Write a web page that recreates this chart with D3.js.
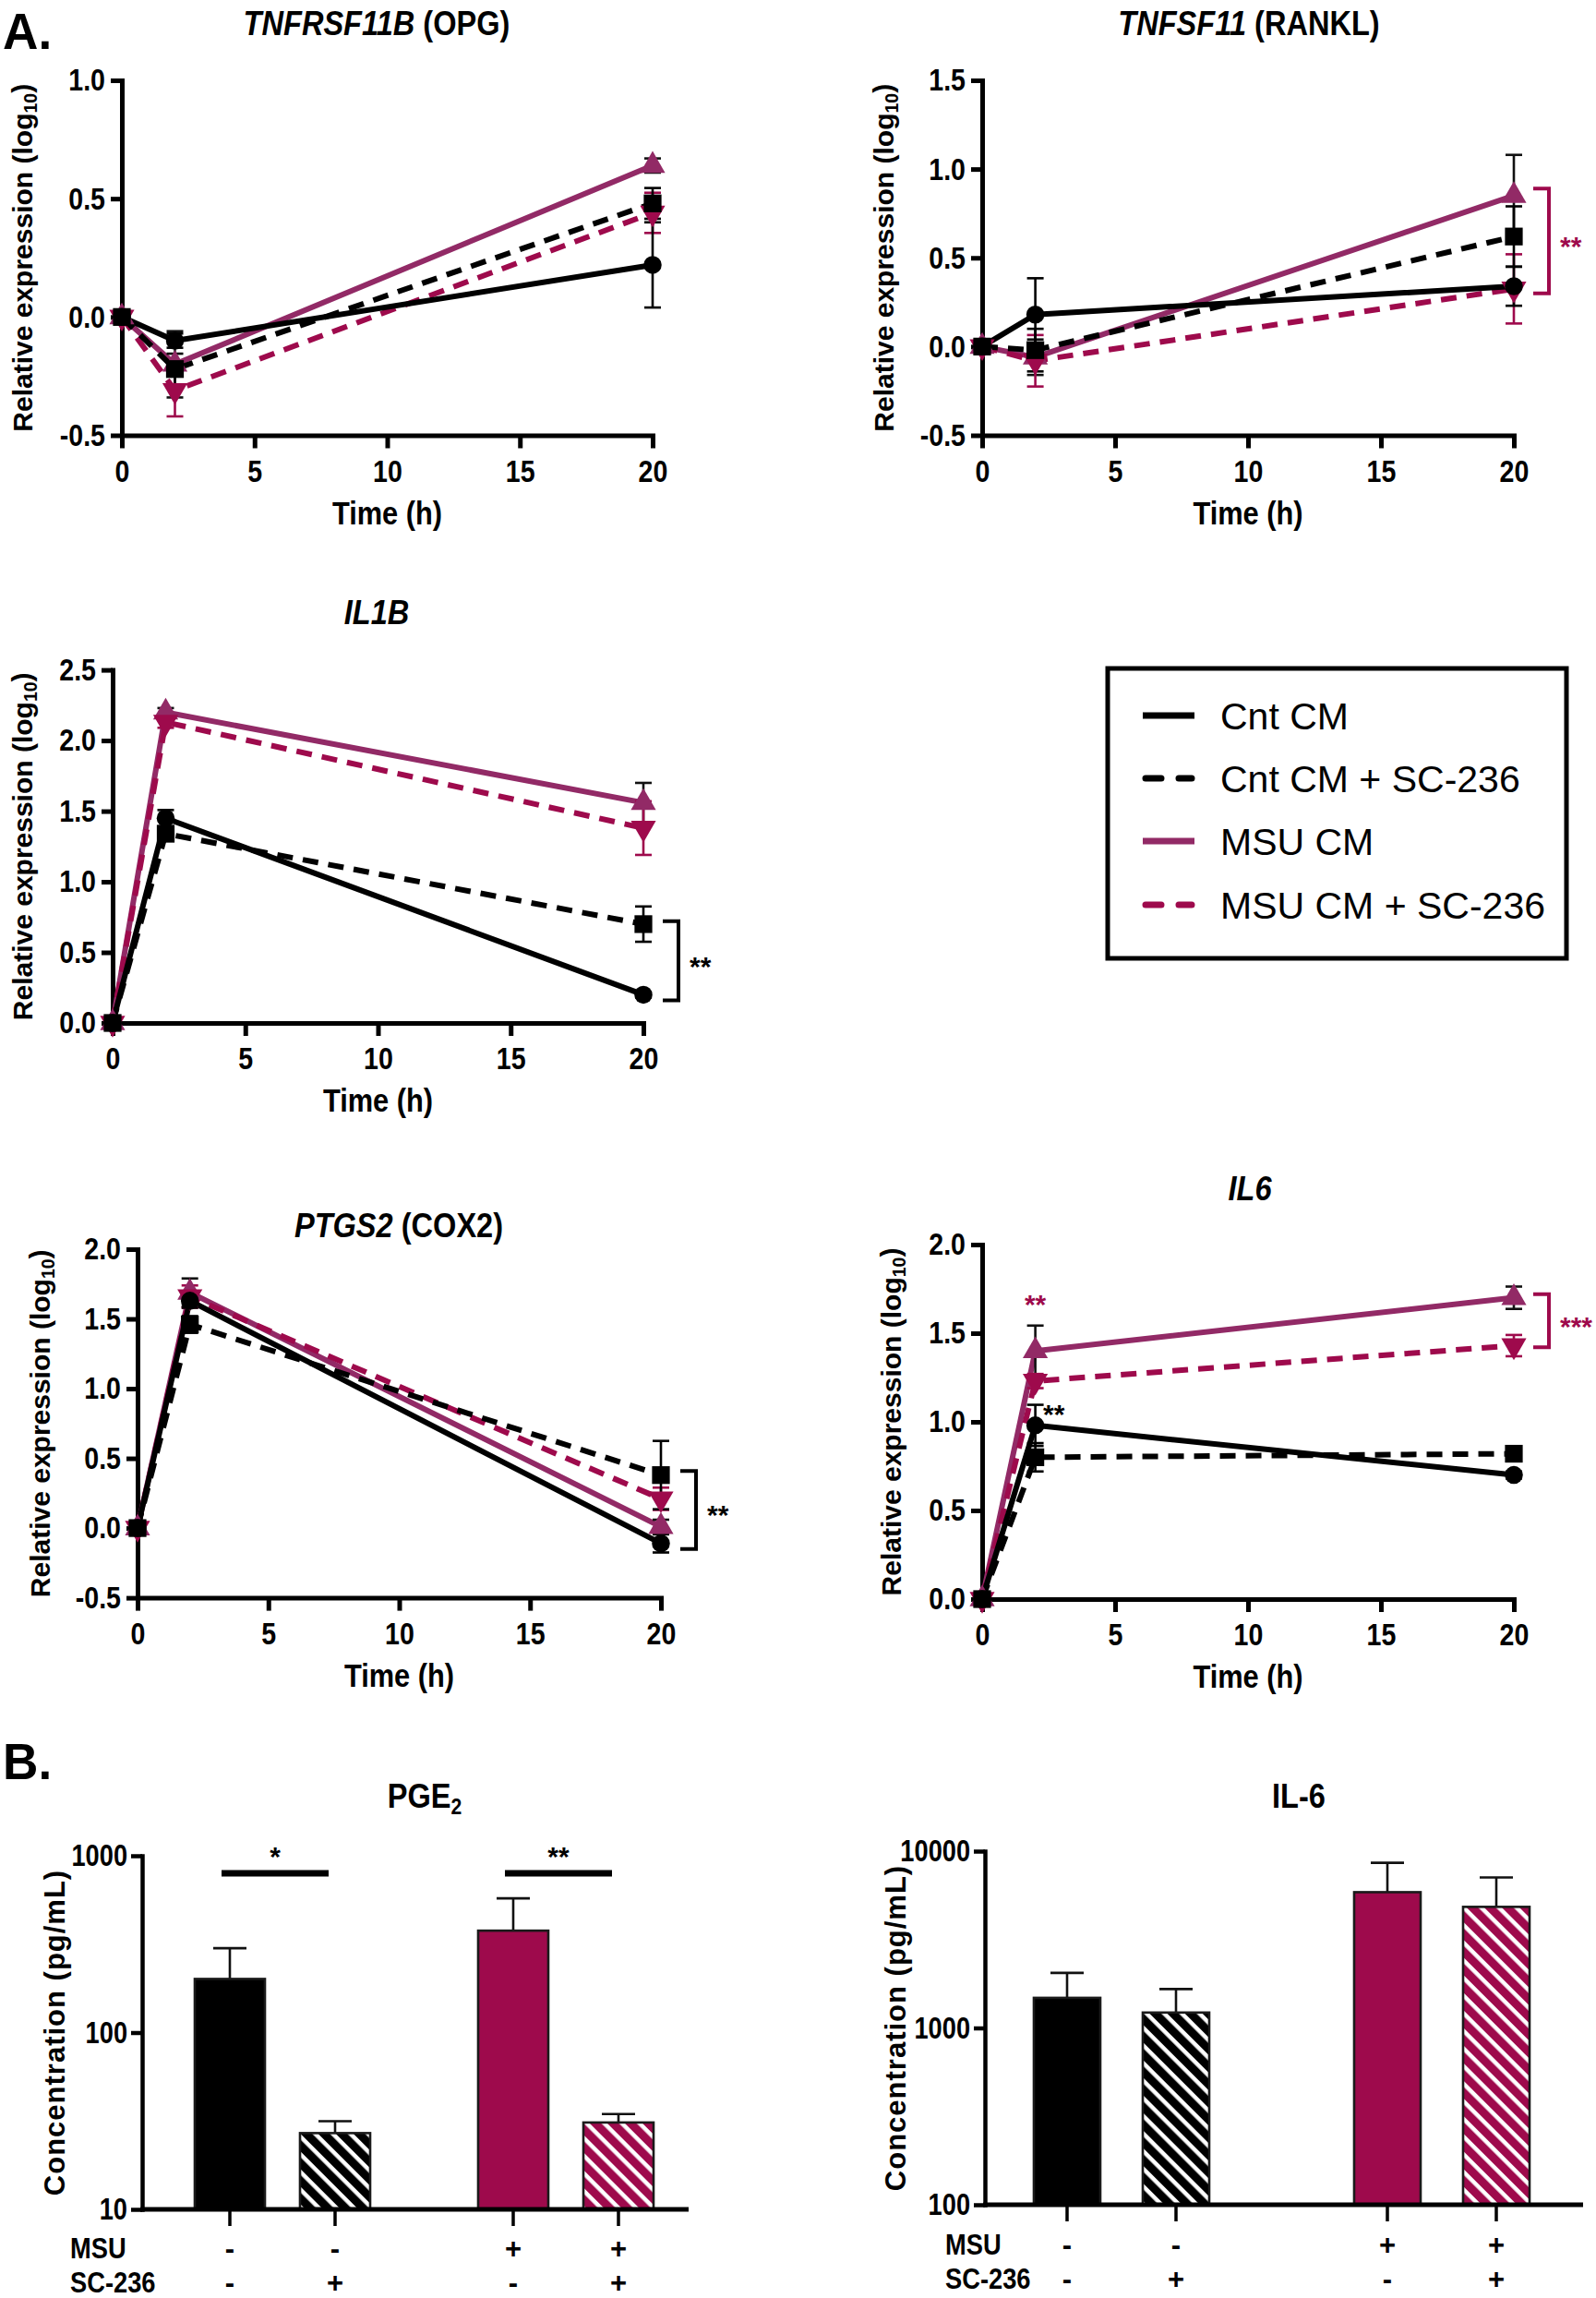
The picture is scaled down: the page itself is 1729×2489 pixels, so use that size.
<!DOCTYPE html>
<html><head><meta charset="utf-8">
<script src="https://cdn.jsdelivr.net/npm/d3@7"></script>
<style>body{margin:0;background:#fff} svg{display:block}</style>
</head><body>
<svg id="fig" width="1729" height="2489"></svg>
<script>
// ================= DATA =================
const timeH = [0, 2, 20];
const xTicks = [0, 5, 10, 15, 20];
const seriesNames = ["Cnt CM", "Cnt CM + SC-236", "MSU CM", "MSU CM + SC-236"];

// TNFRSF11B (OPG)
const opgCnt = [0, -0.10, 0.22],   opgCntErr = [0, 0.03, 0.18];
const opgCntSC = [0, -0.22, 0.48], opgCntSCErr = [0, 0.065, 0.065];
const opgMSU = [0, -0.20, 0.64],   opgMSUErr = [0, 0.14, 0.03];
const opgMSUSC = [0, -0.31, 0.44], opgMSUSCErr = [0, 0.11, 0.085];
const opgYTicks = [-0.5, 0.0, 0.5, 1.0];

// TNFSF11 (RANKL)
const rankCnt = [0, 0.18, 0.34],    rankCntErr = [0, 0.205, 0.11];
const rankCntSC = [0, -0.02, 0.62], rankCntSCErr = [0, 0.12, 0.17];
const rankMSU = [0, -0.06, 0.85],   rankMSUErr = [0, 0.10, 0.23];
const rankMSUSC = [0, -0.08, 0.325],rankMSUSCErr = [0, 0.145, 0.195];
const rankYTicks = [-0.5, 0.0, 0.5, 1.0, 1.5];
const rankBracket = [0.89, 0.30], rankBracketLabel = "**";

// IL1B
const il1bCnt = [0, 1.45, 0.20],   il1bCntErr = [0, 0.058, 0.02];
const il1bCntSC = [0, 1.34, 0.70], il1bCntSCErr = [0, 0.04, 0.125];
const il1bMSU = [0, 2.20, 1.56],   il1bMSUErr = [0, 0.03, 0.14];
const il1bMSUSC = [0, 2.13, 1.38], il1bMSUSCErr = [0, 0.04, 0.19];
const il1bYTicks = [0.0, 0.5, 1.0, 1.5, 2.0, 2.5];
const il1bBracket = [0.72, 0.16], il1bBracketLabel = "**";

// PTGS2 (COX2)
const ptgCnt = [0, 1.63, -0.11],  ptgCntErr = [0, 0.05, 0.065];
const ptgCntSC = [0, 1.46, 0.38], ptgCntSCErr = [0, 0.06, 0.245];
const ptgMSU = [0, 1.69, 0.01],   ptgMSUErr = [0, 0.10, 0.05];
const ptgMSUSC = [0, 1.66, 0.21], ptgMSUSCErr = [0, 0.08, 0.08];
const ptgYTicks = [-0.5, 0.0, 0.5, 1.0, 1.5, 2.0];
const ptgBracket = [0.41, -0.15], ptgBracketLabel = "**";

// IL6
const il6Cnt = [0, 0.98, 0.70],   il6CntErr = [0, 0.116, 0.02];
const il6CntSC = [0, 0.80, 0.82], il6CntSCErr = [0, 0.08, 0.02];
const il6MSU = [0, 1.40, 1.70],   il6MSUErr = [0, 0.143, 0.063];
const il6MSUSC = [0, 1.23, 1.43], il6MSUSCErr = [0, 0.04, 0.06];
const il6YTicks = [0.0, 0.5, 1.0, 1.5, 2.0];
const il6Bracket = [1.72, 1.42], il6BracketLabel = "***";
const il6StarMSU = {t: 2, v: 1.68, label: "**"};
const il6StarCnt = {t: 2.7, v: 1.06, label: "**"};

// Panel B bars
const barMSU = ["-", "-", "+", "+"];
const barSC  = ["-", "+", "-", "+"];
const pge2Vals = [201, 27, 377, 31];
const pge2Err  = [99, 4.5, 197, 3.6];
const pge2Ticks = [10, 100, 1000];
const pge2Sig = [{a: 0, b: 1, v: 795, label: "*"}, {a: 2, b: 3, v: 795, label: "**"}];
const il6pVals = [1480, 1222, 5860, 4840];
const il6pErr  = [567, 438, 2730, 2260];
const il6pTicks = [100, 1000, 10000];

// ================= STYLE / LAYOUT =================
const F = "'Liberation Sans', Arial, Helvetica, sans-serif";
const PURPLE = "#922a66", MAGENTA = "#9e0a4c";
const styles = [
  {color: "#000", dash: null, sym: d3.symbolCircle, size: 300, rot: 0, err: "#000"},
  {color: "#000", dash: "17 11", sym: d3.symbolSquare, size: 370, rot: 0, err: "#000"},
  {color: PURPLE, dash: null, sym: d3.symbolTriangle, size: 320, rot: 0, err: "#111"},
  {color: MAGENTA, dash: "17 11", sym: d3.symbolTriangle, size: 320, rot: 180, err: MAGENTA}
];
const drawOrder = [2, 3, 0, 1];
const TICK_FS = 34, TICK_SQ = 0.84;

const svg = d3.select("#fig");
svg.append("rect").attr("width", 1729).attr("height", 2489).attr("fill", "#fff");

const fmt1 = d => d.toFixed(1);

function condense(sel, f) {
  sel.each(function () {
    const w = this.getComputedTextLength();
    d3.select(this).attr("textLength", w * f).attr("lengthAdjust", "spacingAndGlyphs");
  });
}

// bold, horizontally squeezed text (anchored at x,y)
function sqText(x, y, size, f, anchor) {
  return svg.append("text").attr("transform", `translate(${x},${y}) scale(${f},1)`)
    .attr("text-anchor", anchor || "middle").attr("font-family", F).attr("font-weight", "bold")
    .attr("font-size", size).attr("fill", "#000");
}

function titleText(x, y, parts) {
  const t = sqText(x, y, 37, 0.88);
  parts.forEach(p => {
    const s = t.append("tspan").text(p.t);
    if (p.it) s.attr("font-style", "italic");
    if (p.sub) s.attr("font-size", "0.65em").attr("dy", "0.3em");
  });
  return t;
}

function yLabel(x, yc, main, sub, tail, size, ls) {
  const t = svg.append("text").attr("transform", `translate(${x},${yc}) rotate(-90)`)
    .attr("text-anchor", "middle").attr("dy", "0.35em")
    .attr("font-family", F).attr("font-weight", "bold").attr("font-size", size || 30);
  if (ls) t.attr("letter-spacing", ls);
  t.append("tspan").text(main);
  if (sub) {
    t.append("tspan").text(sub).attr("font-size", "0.65em").attr("dy", "0.3em");
    t.append("tspan").text(tail).attr("dy", "-0.2em");
  }
}

function styleAxis(g, w, sq) {
  g.select(".domain").attr("stroke", "#000").attr("stroke-width", w).attr("stroke-linecap", "square");
  g.selectAll(".tick line").attr("stroke", "#000").attr("stroke-width", w);
  const tx = g.selectAll(".tick text").attr("fill", "#000").attr("font-family", F)
    .attr("font-weight", "bold").attr("font-size", TICK_FS);
  condense(tx, sq || TICK_SQ);
}

function linePanel(L, series, yTicks, extra) {
  const x = d3.scaleLinear().domain([0, 20]).range([L.x0, L.x1]);
  const y = d3.scaleLinear().domain([yTicks[0], yTicks[yTicks.length - 1]]).range([L.yBot, L.yTop]);
  titleText(L.tx, L.ty, L.title);
  yLabel(L.ylx, (L.yTop + L.yBot) / 2, "Relative expression (log", "10", ")");

  const gx = svg.append("g").attr("transform", `translate(0,${L.yBot})`)
    .call(d3.axisBottom(x).tickValues(xTicks).tickFormat(d3.format("d")).tickSize(14).tickSizeOuter(0).tickPadding(12));
  styleAxis(gx, 5);
  const gy = svg.append("g").attr("transform", `translate(${L.x0},0)`)
    .call(d3.axisLeft(y).tickValues(yTicks).tickFormat(fmt1).tickSize(12).tickSizeOuter(0).tickPadding(6));
  styleAxis(gy, 5);
  sqText((L.x0 + L.x1) / 2, L.yBot + 96, 35, 0.88).text("Time (h)");

  const line = d3.line().x((d, i) => x(timeH[i])).y(d => y(d));
  drawOrder.forEach(si => {
    const st = styles[si];
    const p = svg.append("path").datum(series[si].v).attr("d", line).attr("fill", "none")
      .attr("stroke", st.color).attr("stroke-width", 6).attr("stroke-linejoin", "round");
    if (st.dash) p.attr("stroke-dasharray", st.dash);
  });
  drawOrder.forEach(si => {
    const st = styles[si];
    series[si].v.forEach((v, i) => {
      const e = series[si].e[i];
      if (!e) return;
      const cx = x(timeH[i]);
      const g = svg.append("g").attr("stroke", st.err).attr("stroke-width", 2.6).attr("fill", "none");
      g.append("line").attr("x1", cx).attr("x2", cx).attr("y1", y(v - e)).attr("y2", y(v + e));
      [v - e, v + e].forEach(q => g.append("line").attr("x1", cx - 9).attr("x2", cx + 9).attr("y1", y(q)).attr("y2", y(q)));
    });
  });
  drawOrder.forEach(si => {
    const st = styles[si];
    const sym = d3.symbol().type(st.sym).size(st.size);
    series[si].v.forEach((v, i) => {
      svg.append("path").attr("d", sym()).attr("fill", st.color)
        .attr("transform", `translate(${x(timeH[i])},${y(v)}) rotate(${st.rot})`);
    });
  });
  if (extra && extra.bracket) {
    const bx = x(20) + 38, c = extra.color;
    const [b1, b2] = extra.bracket;
    svg.append("path").attr("d", `M${bx - 17},${y(b1)}H${bx}V${y(b2)}H${bx - 17}`)
      .attr("fill", "none").attr("stroke", c).attr("stroke-width", 4);
    svg.append("text").attr("x", bx + 12).attr("y", (y(b1) + y(b2)) / 2 + 16)
      .attr("font-family", F).attr("font-weight", "bold").attr("font-size", 30).attr("fill", c).text(extra.label);
  }
  if (extra && extra.stars) {
    extra.stars.forEach(s => {
      svg.append("text").attr("x", x(s.t)).attr("y", y(s.v) + 14).attr("text-anchor", "middle")
        .attr("font-family", F).attr("font-weight", "bold").attr("font-size", 30).attr("fill", s.color).text(s.label);
    });
  }
}

function mk(a, ae, b, be, c, ce, d, de) {
  return [{v: a, e: ae}, {v: b, e: be}, {v: c, e: ce}, {v: d, e: de}];
}

// Panel A label
sqText(3, 53, 56, 0.95, "start").text("A.");

linePanel({x0: 132, x1: 707, yTop: 87, yBot: 471.5, ylx: 24, tx: 408, ty: 38,
  title: [{t: "TNFRSF11B", it: true}, {t: " (OPG)"}]},
  mk(opgCnt, opgCntErr, opgCntSC, opgCntSCErr, opgMSU, opgMSUErr, opgMSUSC, opgMSUSCErr), opgYTicks);

linePanel({x0: 1064, x1: 1640, yTop: 87, yBot: 471.5, ylx: 957, tx: 1353, ty: 38,
  title: [{t: "TNFSF11", it: true}, {t: " (RANKL)"}]},
  mk(rankCnt, rankCntErr, rankCntSC, rankCntSCErr, rankMSU, rankMSUErr, rankMSUSC, rankMSUSCErr), rankYTicks,
  {bracket: rankBracket, label: rankBracketLabel, color: MAGENTA});

linePanel({x0: 122, x1: 697, yTop: 725.6, yBot: 1108, ylx: 24, tx: 408, ty: 676,
  title: [{t: "IL1B", it: true}]},
  mk(il1bCnt, il1bCntErr, il1bCntSC, il1bCntSCErr, il1bMSU, il1bMSUErr, il1bMSUSC, il1bMSUSCErr), il1bYTicks,
  {bracket: il1bBracket, label: il1bBracketLabel, color: "#000"});

linePanel({x0: 149, x1: 716, yTop: 1353, yBot: 1730.6, ylx: 43, tx: 432, ty: 1340,
  title: [{t: "PTGS2", it: true}, {t: " (COX2)"}]},
  mk(ptgCnt, ptgCntErr, ptgCntSC, ptgCntSCErr, ptgMSU, ptgMSUErr, ptgMSUSC, ptgMSUSCErr), ptgYTicks,
  {bracket: ptgBracket, label: ptgBracketLabel, color: "#000"});

linePanel({x0: 1064, x1: 1640, yTop: 1348, yBot: 1732, ylx: 965, tx: 1354, ty: 1300,
  title: [{t: "IL6", it: true}]},
  mk(il6Cnt, il6CntErr, il6CntSC, il6CntSCErr, il6MSU, il6MSUErr, il6MSUSC, il6MSUSCErr), il6YTicks,
  {bracket: il6Bracket, label: il6BracketLabel, color: MAGENTA,
   stars: [Object.assign({color: MAGENTA}, il6StarMSU), Object.assign({color: "#000"}, il6StarCnt)]});

// Legend
const LG = {x: 1200, y: 724, w: 497, h: 314, lx0: 1238, lx1: 1294, tx: 1322, rows: [775, 843, 911, 980]};
svg.append("rect").attr("x", LG.x).attr("y", LG.y).attr("width", LG.w).attr("height", LG.h)
  .attr("fill", "none").attr("stroke", "#000").attr("stroke-width", 5);
seriesNames.forEach((n, i) => {
  const st = styles[i], yy = LG.rows[i];
  const p = svg.append("line").attr("x1", LG.lx0).attr("x2", LG.lx1).attr("y1", yy).attr("y2", yy)
    .attr("stroke", st.color).attr("stroke-width", 7);
  if (st.dash) p.attr("stroke-dasharray", "17 19").attr("x1", LG.lx0 + 3).attr("x2", LG.lx1 - 3).attr("stroke-linecap", "round");
  svg.append("text").attr("x", LG.tx).attr("y", yy).attr("dy", "0.36em").attr("font-family", F)
    .attr("font-size", 41).attr("fill", "#000").text(n);
});

// ============ Panel B ============
sqText(3, 1927, 56, 0.95, "start").text("B.");

const defs = svg.append("defs");
[["hatchK", "#000"], ["hatchM", MAGENTA]].forEach(([id, c]) => {
  const p = defs.append("pattern").attr("id", id).attr("patternUnits", "userSpaceOnUse")
    .attr("width", 13.5).attr("height", 13.5).attr("patternTransform", "rotate(-45)");
  p.append("rect").attr("width", 13.5).attr("height", 13.5).attr("fill", "#fff");
  p.append("rect").attr("width", 9).attr("height", 13.5).attr("fill", c);
});

function barPanel(B, vals, errs, ticks, sig) {
  const y = d3.scaleLog().domain([ticks[0], ticks[ticks.length - 1]]).range([B.yBot, B.yTop]);
  const outer = d3.scalePoint().domain(["-", "+"]).range([B.g0, B.g1]);
  const inner = d3.scalePoint().domain(["-", "+"]).range([-B.off, B.off]);
  const cx = i => outer(barMSU[i]) + inner(barSC[i]);
  titleText(B.tx, B.ty, B.title);
  yLabel(B.ylx, (B.yTop + B.yBot) / 2, "Concentration (pg/mL)", null, null, 31, 1);

  vals.forEach((v, i) => {
    const c = barMSU[i] === "+" ? MAGENTA : "#000";
    const top = y(v + errs[i]);
    const g = svg.append("g").attr("stroke", "#111").attr("stroke-width", 2.6);
    g.append("line").attr("x1", cx(i)).attr("x2", cx(i)).attr("y1", y(v)).attr("y2", top);
    g.append("line").attr("x1", cx(i) - 18).attr("x2", cx(i) + 18).attr("y1", top).attr("y2", top);
    svg.append("rect").attr("x", cx(i) - B.bw / 2).attr("y", y(v)).attr("width", B.bw)
      .attr("height", B.yBot - y(v))
      .attr("fill", barSC[i] === "+" ? (barMSU[i] === "+" ? "url(#hatchM)" : "url(#hatchK)") : c)
      .attr("stroke", "#1a1a1a").attr("stroke-width", 2.6);
  });

  const gy = svg.append("g").attr("transform", `translate(${B.x0},0)`)
    .call(d3.axisLeft(y).tickValues(ticks).tickFormat(d3.format("d")).tickSize(12).tickSizeOuter(0).tickPadding(4));
  styleAxis(gy, 4.5, 0.8);
  svg.append("line").attr("x1", B.x0 - 2).attr("x2", B.xEnd).attr("y1", B.yBot).attr("y2", B.yBot)
    .attr("stroke", "#000").attr("stroke-width", 5);
  vals.forEach((v, i) => {
    svg.append("line").attr("x1", cx(i)).attr("x2", cx(i)).attr("y1", B.yBot).attr("y2", B.yBot + 18)
      .attr("stroke", "#000").attr("stroke-width", 3.5);
  });

  (sig || []).forEach(s => {
    const x1 = cx(s.a) - 9, x2 = cx(s.b) - 7;
    svg.append("line").attr("x1", x1).attr("x2", x2).attr("y1", y(s.v)).attr("y2", y(s.v))
      .attr("stroke", "#000").attr("stroke-width", 7);
    svg.append("text").attr("x", (x1 + x2) / 2).attr("y", y(s.v) - 8).attr("text-anchor", "middle")
      .attr("font-family", F).attr("font-weight", "bold").attr("font-size", 30).text(s.label);
  });

  [["MSU", barMSU, B.r1], ["SC-236", barSC, B.r2]].forEach(([lab, arr, yy]) => {
    sqText(B.lx, yy, 31, 0.88, "start").text(lab);
    arr.forEach((s, i) => {
      svg.append("text").attr("x", cx(i)).attr("y", yy).attr("text-anchor", "middle").attr("font-family", F)
        .attr("font-weight", "bold").attr("font-size", 31).text(s === "-" ? "-" : "+");
    });
  });
}

barPanel({x0: 154, xEnd: 746, yTop: 2010, yBot: 2393, g0: 306, g1: 613, off: 57, bw: 76,
  tx: 460, ty: 1958, title: [{t: "PGE"}, {t: "2", sub: true}], ylx: 59, lx: 76, r1: 2446, r2: 2483},
  pge2Vals, pge2Err, pge2Ticks, pge2Sig);

barPanel({x0: 1067, xEnd: 1715, yTop: 2005, yBot: 2388, g0: 1215, g1: 1562, off: 59, bw: 72,
  tx: 1407, ty: 1958, title: [{t: "IL-6"}], ylx: 970, lx: 1024, r1: 2442, r2: 2479},
  il6pVals, il6pErr, il6pTicks, null);
</script>
</body></html>
